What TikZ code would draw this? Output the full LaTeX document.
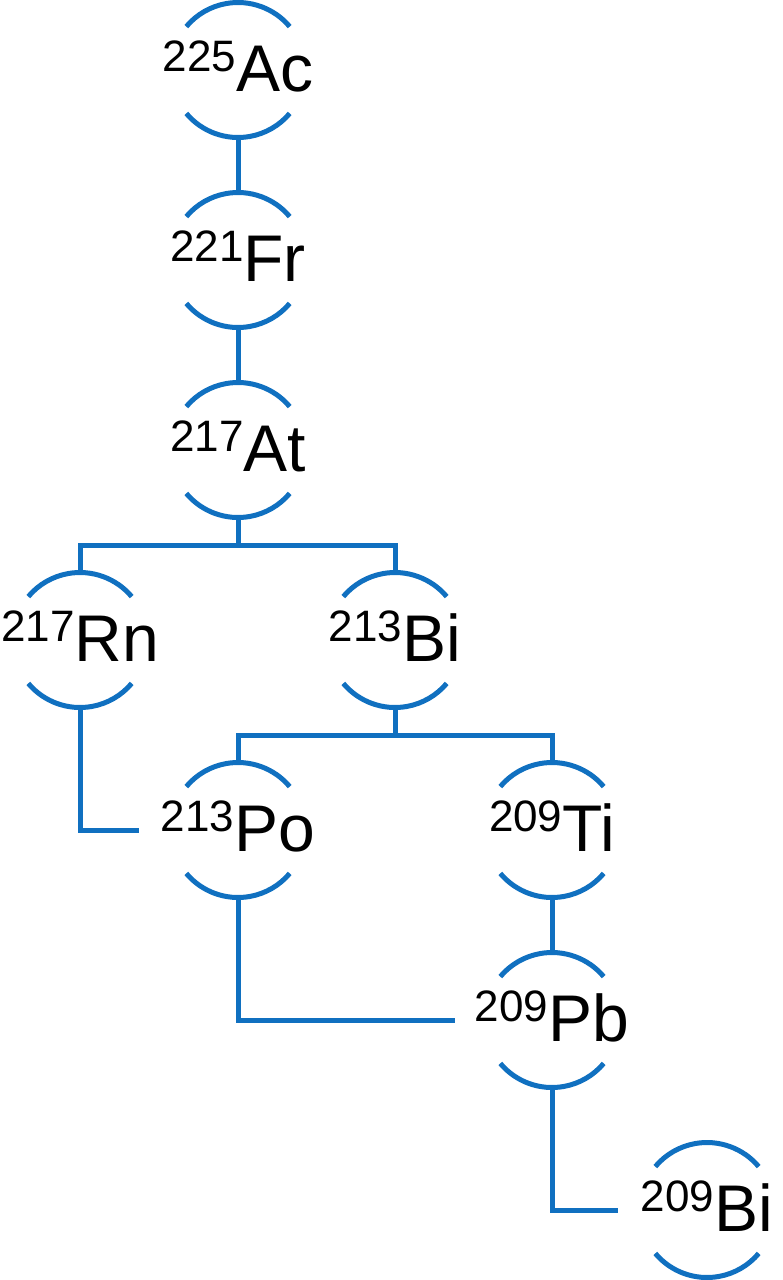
\documentclass[tikz,border=0pt]{standalone}
\usepackage{fontspec}
\setmainfont{Liberation Sans}
\definecolor{nucblue}{RGB}{16,112,192}
\newcommand\isotope[2]{\raisebox{20pt}{\fontsize{44pt}{44pt}\selectfont #1}#2}
\begin{document}
\begin{tikzpicture}[x=1pt,y=1pt,
  ring/.style={circle,minimum size=135pt,inner sep=0pt,outer sep=0pt},
  lbl/.style={inner sep=0pt,anchor=base,font=\fontsize{66pt}{66pt}\selectfont},
  arcline/.style={draw=nucblue,line width=5pt},
  link/.style={draw=nucblue,line width=5pt}]
\useasboundingbox (0,0) rectangle (782,-1280);
% rings
\node[ring] (ac) at (238,-70) {};
\node[ring] (fr) at (238,-260) {};
\node[ring] (at) at (238,-450) {};
\node[ring] (rn) at (80,-640) {};
\node[ring] (bia) at (395,-640) {};
\node[ring] (po) at (238,-830) {};
\node[ring] (ti) at (552,-830) {};
\node[ring] (pb) at (552,-1020) {};
\node[ring] (bib) at (707,-1210) {};
% labels
\node[lbl] (acl) at ([yshift=-21pt]ac.center) {\isotope{225}{Ac}};
\node[lbl] (frl) at ([yshift=-21pt]fr.center) {\isotope{221}{Fr}};
\node[lbl] (atl) at ([yshift=-21pt]at.center) {\isotope{217}{At}};
\node[lbl] (rnl) at ([yshift=-21pt]rn.center) {\isotope{217}{Rn}};
\node[lbl] (bial) at ([yshift=-21pt]bia.center) {\isotope{213}{Bi}};
\node[lbl] (pol) at ([yshift=-21pt]po.center) {\isotope{213}{Po}};
\node[lbl] (til) at ([yshift=-21pt]ti.center) {\isotope{209}{Ti}};
\node[lbl] (pbl) at ([yshift=-21pt]pb.center) {\isotope{209}{Pb}};
\node[lbl] (bibl) at ([yshift=-21pt]bib.center) {\isotope{209}{Bi}};
% arcs
\foreach \n in {ac,fr,at,rn,bia,po,ti,pb,bib}{
  \draw[arcline] (\n.40) arc[start angle=40,end angle=140,radius=67.5pt];
  \draw[arcline] (\n.220) arc[start angle=220,end angle=320,radius=67.5pt];
}
% junctions
\coordinate (j1) at (238,-545);
\coordinate (j2) at (395,-735);
% connectors
\draw[link] (ac.south) -- (fr.north);
\draw[link] (fr.south) -- (at.north);
\draw[link] (at.south) -- (j1);
\draw[link] (rn.north) -- (rn.north |- j1) -- (bia.north |- j1) -- (bia.north);
\draw[link] (bia.south) -- (j2);
\draw[link] (po.north) -- (po.north |- j2) -- (ti.north |- j2) -- (ti.north);
\draw[link] (rn.south) |- ([xshift=-32pt]po.west);
\draw[link] (ti.south) -- (pb.north);
\draw[link] (po.south) |- ([xshift=-30pt]pb.west);
\draw[link] (pb.south) |- ([xshift=-22pt]bib.west);
\end{tikzpicture}
\end{document}
